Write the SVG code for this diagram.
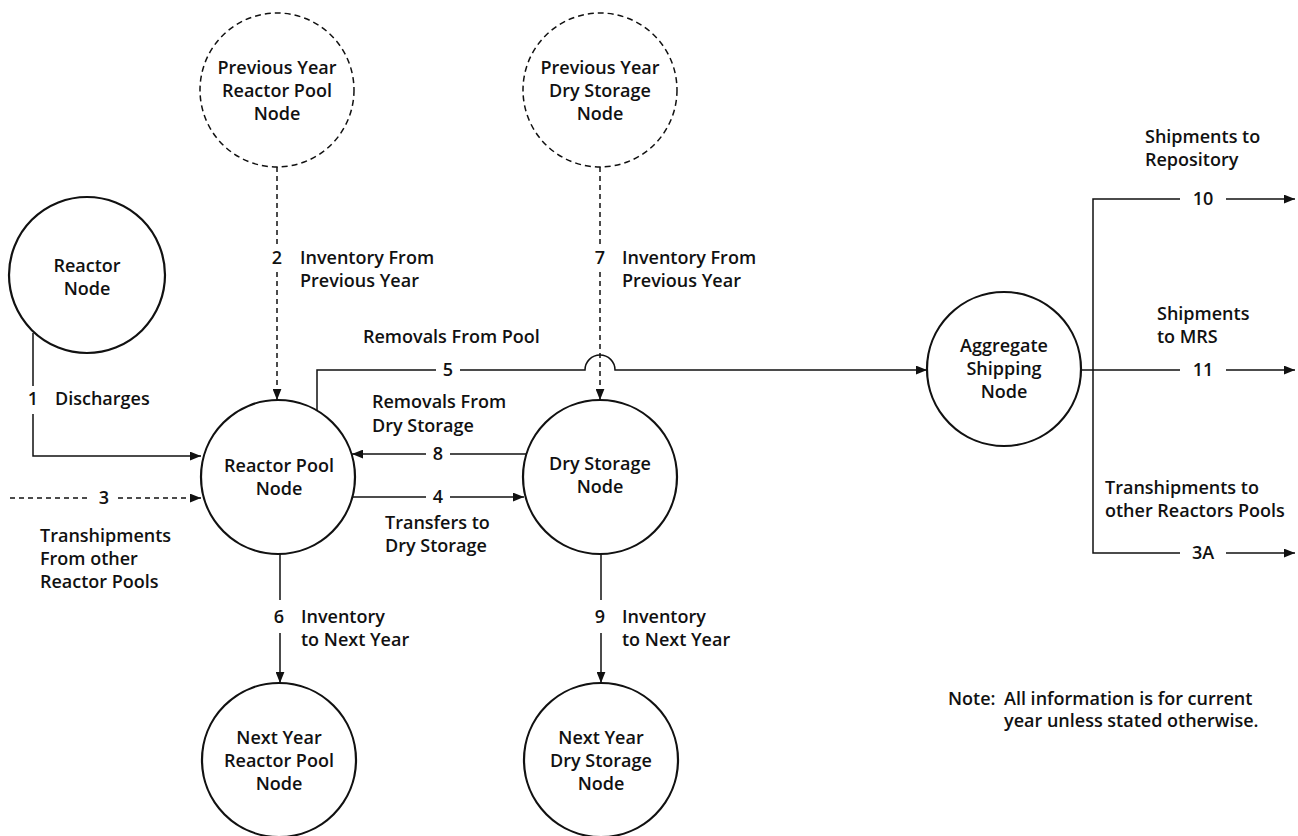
<svg xmlns="http://www.w3.org/2000/svg" width="1298" height="836" viewBox="0 0 1298 836">
<style>
text{font-family:"Open Sans","Liberation Sans",sans-serif;font-weight:600;font-size:18px;fill:#111}
.c{text-anchor:middle}
.node{fill:none;stroke:#111;stroke-width:2.2}
.dnode{fill:none;stroke:#111;stroke-width:1.5;stroke-dasharray:6 4}
.ln{fill:none;stroke:#111;stroke-width:1.5}
.dl{fill:none;stroke:#111;stroke-width:1.5;stroke-dasharray:5 4}
</style>
<defs>
<marker id="ah" viewBox="0 0 10 8" refX="10" refY="4" markerWidth="11" markerHeight="9" markerUnits="userSpaceOnUse" orient="auto"><path d="M0,0 L10,4 L0,8 Z" fill="#111"/></marker>
</defs>
<rect width="1298" height="836" fill="#fff"/>
<g id="prev-pool"><circle class="dnode" cx="277" cy="90" r="77"/><text class="c" x="277" y="74">Previous Year</text><text class="c" x="277" y="97">Reactor Pool</text><text class="c" x="277" y="120">Node</text></g>
<g id="prev-dry"><circle class="dnode" cx="600" cy="90" r="77"/><text class="c" x="600" y="74">Previous Year</text><text class="c" x="600" y="97">Dry Storage</text><text class="c" x="600" y="120">Node</text></g>
<g id="reactor"><circle class="node" cx="87" cy="275" r="78"/><text class="c" x="87" y="272">Reactor</text><text class="c" x="87" y="295">Node</text></g>
<g id="pool"><circle class="node" cx="278" cy="477" r="77"/><text class="c" x="279" y="472">Reactor Pool</text><text class="c" x="279" y="495">Node</text></g>
<g id="dry"><circle class="node" cx="600" cy="477" r="77"/><text class="c" x="600" y="470">Dry Storage</text><text class="c" x="600" y="493">Node</text></g>
<g id="agg"><circle class="node" cx="1004" cy="369" r="77"/><text class="c" x="1004" y="352">Aggregate</text><text class="c" x="1004" y="375">Shipping</text><text class="c" x="1004" y="398">Node</text></g>
<g id="next-pool"><circle class="node" cx="279" cy="760" r="77"/><text class="c" x="279" y="744">Next Year</text><text class="c" x="279" y="767">Reactor Pool</text><text class="c" x="279" y="790">Node</text></g>
<g id="next-dry"><circle class="node" cx="601" cy="760" r="77"/><text class="c" x="601" y="744">Next Year</text><text class="c" x="601" y="767">Dry Storage</text><text class="c" x="601" y="790">Node</text></g>
<g id="connectors">
<path class="ln" d="M33,333 V386 M33,414 V456 H201" marker-end="url(#ah)"/>
<path class="dl" d="M10,498 H90"/>
<path class="dl" d="M118,498 H201" marker-end="url(#ah)"/>
<path class="dl" d="M277,167 V245"/>
<path class="dl" d="M277,272 V400" marker-end="url(#ah)"/>
<path class="dl" d="M600,167 V245"/>
<path class="dl" d="M600,272 V400" marker-end="url(#ah)"/>
<path class="ln" d="M317,411 V370 H436"/>
<path class="ln" d="M460,370 H585 A15,15 0 0 1 615,370 H927" marker-end="url(#ah)"/>
<path class="ln" d="M526,454 H450"/>
<path class="ln" d="M426,454 H352" marker-end="url(#ah)"/>
<path class="ln" d="M352,497 H426"/>
<path class="ln" d="M450,497 H524" marker-end="url(#ah)"/>
<path class="ln" d="M280,554 V600"/>
<path class="ln" d="M280,633 V683" marker-end="url(#ah)"/>
<path class="ln" d="M601,554 V600"/>
<path class="ln" d="M601,633 V683" marker-end="url(#ah)"/>
<path class="ln" d="M1180,199 H1093 V553 H1180 M1081,370 H1180"/>
<path class="ln" d="M1226,199 H1295" marker-end="url(#ah)"/>
<path class="ln" d="M1226,370 H1295" marker-end="url(#ah)"/>
<path class="ln" d="M1226,553 H1295" marker-end="url(#ah)"/>
</g>
<g id="labels">
<text class="c" x="33" y="405">1</text><text x="55" y="405">Discharges</text>
<text class="c" x="104" y="504">3</text>
<text x="40" y="542">Transhipments</text><text x="40" y="565">From other</text><text x="40" y="588">Reactor Pools</text>
<text class="c" x="277" y="264">2</text><text x="300" y="264">Inventory From</text><text x="300" y="287">Previous Year</text>
<text class="c" x="600" y="264">7</text><text x="622" y="264">Inventory From</text><text x="622" y="287">Previous Year</text>
<text x="363" y="343">Removals From Pool</text>
<text class="c" x="448" y="376">5</text>
<text x="372" y="408">Removals From</text><text x="372" y="432">Dry Storage</text>
<text class="c" x="438" y="460">8</text>
<text class="c" x="438" y="503">4</text>
<text x="385" y="529">Transfers to</text><text x="385" y="552">Dry Storage</text>
<text class="c" x="279" y="623">6</text><text x="301" y="623">Inventory</text><text x="301" y="646">to Next Year</text>
<text class="c" x="600" y="623">9</text><text x="622" y="623">Inventory</text><text x="622" y="646">to Next Year</text>
<text x="1145" y="143">Shipments to</text><text x="1145" y="166">Repository</text>
<text class="c" x="1203" y="205">10</text>
<text x="1157" y="320">Shipments</text><text x="1157" y="343">to MRS</text>
<text class="c" x="1203" y="376">11</text>
<text x="1105" y="494">Transhipments to</text><text x="1105" y="517">other Reactors Pools</text>
<text class="c" x="1203" y="559">3A</text>
<text x="948" y="705">Note:</text><text x="1004" y="705">All information is for current</text>
<text x="1004" y="727">year unless stated otherwise.</text>
</g>
</svg>
